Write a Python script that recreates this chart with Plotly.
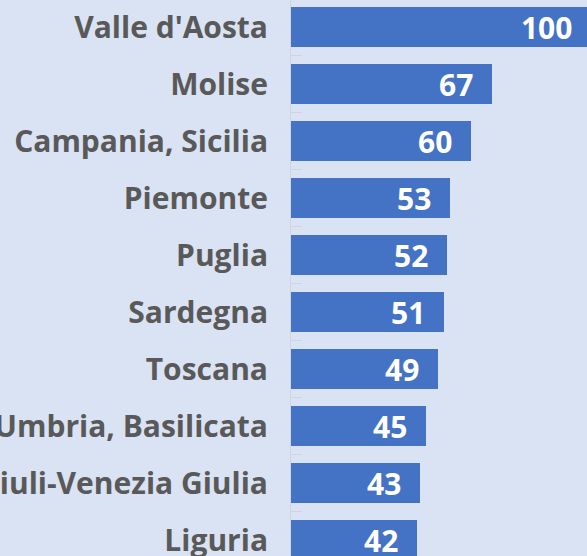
import plotly.graph_objects as go

regions = ["Valle d'Aosta", "Molise", "Campania, Sicilia", "Piemonte", "Puglia",
           "Sardegna", "Toscana", "Umbria, Basilicata", "Friuli-Venezia Giulia", "Liguria"]
values = [100, 67, 60, 53, 52, 51, 49, 45, 43, 42]

BG = "#dae3f3"
BAR = "#4472c4"
FONT = "Open Sans"

fig = go.Figure(go.Bar(
    x=values, y=regions, orientation="h",
    marker=dict(color=BAR, line=dict(width=0)),
    width=0.70,
    texttemplate="%{x}\u00a0\u00a0",
    textposition="inside", insidetextanchor="end", constraintext="none",
    textfont=dict(family=FONT, size=30, color="white", weight="bold"),
    cliponaxis=True,
))

fig.update_layout(
    width=587, height=556,
    margin=dict(l=291, r=0, t=0, b=0, autoexpand=False),
    paper_bgcolor=BG, plot_bgcolor=BG,
    showlegend=False,
    bargap=0.3,
)
fig.update_xaxes(range=[0, 296 / 3], visible=False, showgrid=False, zeroline=False,
                 automargin=False)
fig.update_yaxes(
    type="category", range=[9.2807, -0.4737], automargin=False,
    showline=True, linecolor="#d0d4dc", linewidth=1,
    ticks="inside", tickson="boundaries", ticklen=11, tickcolor="#d0d4dc",
    showgrid=False, zeroline=False,
    tickfont=dict(family=FONT, size=30, color="#595959", weight="bold"),
    ticklabelstandoff=16,
)

fig.write_html(
    "out.html",
    config={"displayModeBar": False},
    post_script="document.body.style.margin='0';document.body.style.overflow='hidden';",
)
